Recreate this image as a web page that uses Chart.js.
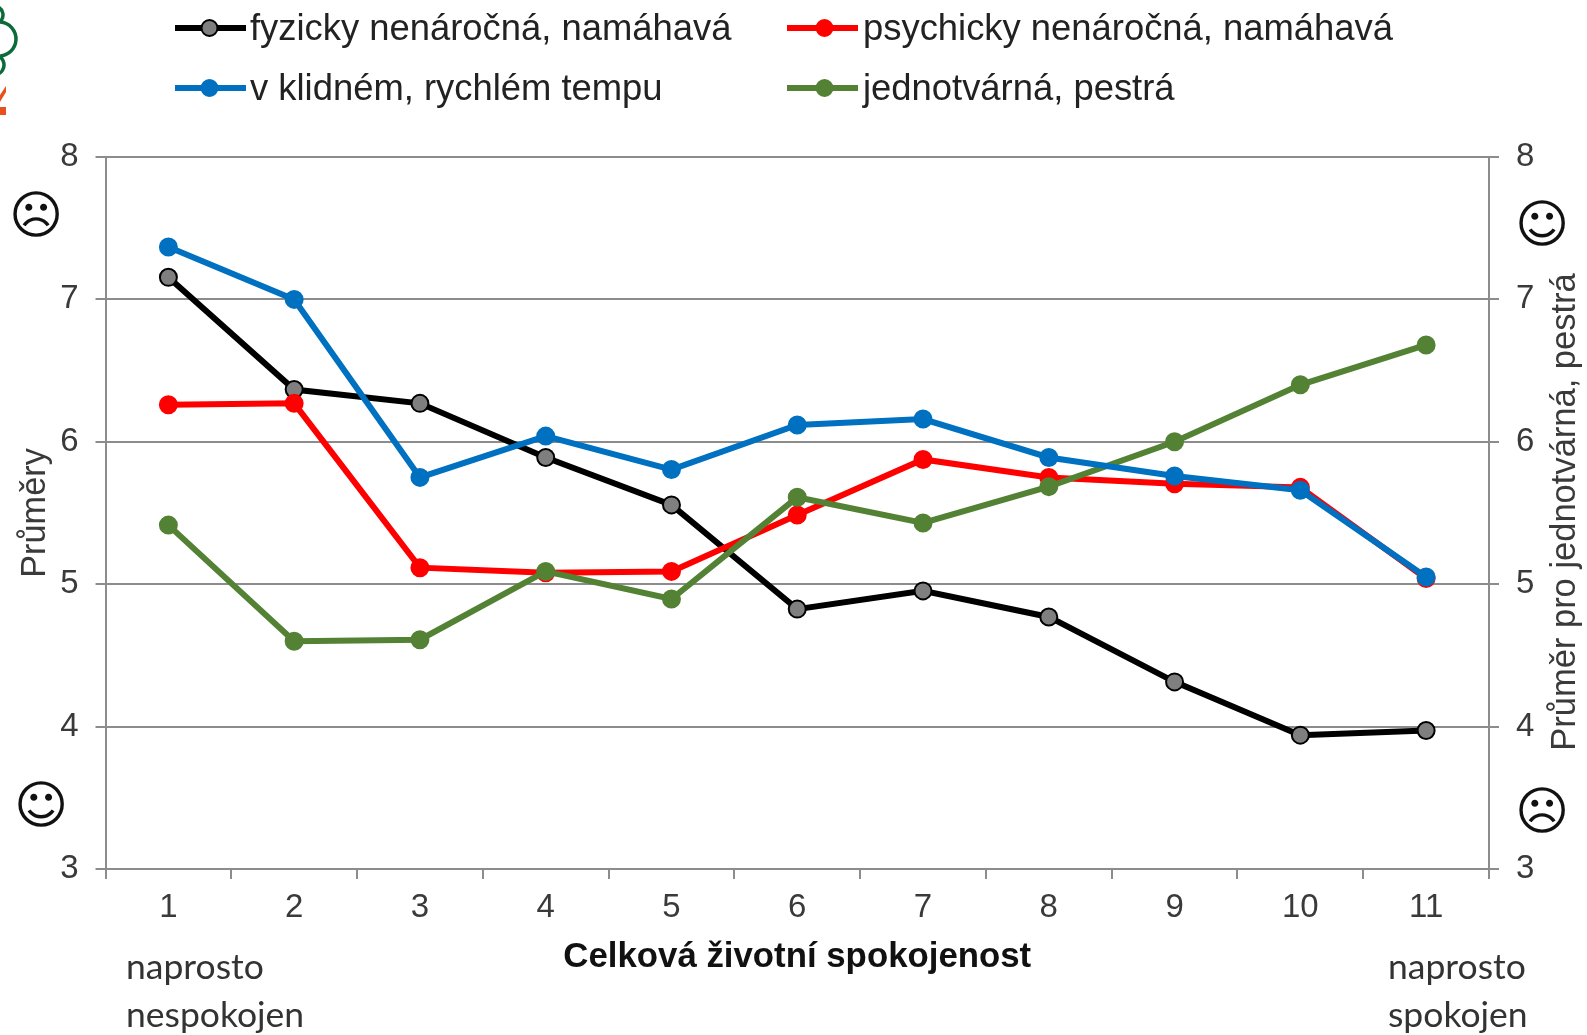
<!DOCTYPE html>
<html><head><meta charset="utf-8">
<style>html,body{margin:0;padding:0;background:#fff;overflow:hidden}#w{position:absolute;left:0;top:0;width:1587px;height:1035px}</style>
<script src="https://cdn.jsdelivr.net/npm/chart.js@4"></script></head>
<body><div id="w"><canvas id="c" width="1587" height="1035"></canvas></div>
<script>
const categories = ['1','2','3','4','5','6','7','8','9','10','11'];
const fyzicky = [7.155,6.367,6.27,5.89,5.557,4.825,4.953,4.77,4.314,3.94,3.973];
const psychicky = [6.26,6.27,5.116,5.08,5.09,5.486,5.876,5.75,5.706,5.68,5.04];
const tempo = [7.368,7.0,5.75,6.04,5.805,6.118,6.16,5.89,5.76,5.66,5.05];
const pestra = [5.415,4.6,4.61,5.09,4.896,5.61,5.43,5.685,6.0,6.40,6.68];
const seriesNames = ['fyzicky nenáročná, namáhavá','psychicky nenáročná, namáhavá','v klidném, rychlém tempu','jednotvárná, pestrá'];
const GRID='#8c8c8c', TXT='#3a3a3a', SANS='"Liberation Sans"';
function ds(label,data,color,fill,order){return {label,data,order,borderColor:color,backgroundColor:fill,pointBackgroundColor:fill,pointBorderColor:color,
  borderWidth:6,pointRadius:8.5,pointBorderWidth:2,tension:0,yAxisID:'y'};}
function yAxis(pos,pad){return {position:pos,min:3,max:8,
  ticks:{stepSize:1,color:TXT,font:{family:SANS,size:33},padding:pad},
  grid:{color:GRID,lineWidth:2,tickLength:10,tickColor:GRID,drawOnChartArea:pos==='left'},
  border:{color:GRID,width:2},
  afterFit(s){s.width=pos==='left'?105.5:98;}};}
const extras={id:'extras',afterDraw(ch){
  const g=ch.ctx;g.save();
  const leg=[[175,28,250,0,34.5],[787,28,863,1,37.5],[175,88,250,2,34.5],[787,88,863,3,37.5]];
  leg.forEach(([x,y,tx,i,mx])=>{const d=ch.data.datasets[i];
    g.strokeStyle=d.borderColor;g.lineWidth=6;g.beginPath();g.moveTo(x,y);g.lineTo(x+71,y);g.stroke();
    g.fillStyle=d.backgroundColor;g.lineWidth=2;g.beginPath();g.arc(x+mx,y,8,0,7);g.fill();g.stroke();
    g.fillStyle='#222';g.font='36.4px '+SANS;g.textAlign='left';g.textBaseline='middle';g.fillText(seriesNames[i],tx,y+2);});
  g.fillStyle=TXT;g.font='34.5px '+SANS;g.textAlign='center';g.textBaseline='middle';
  g.save();g.translate(1565,512);g.rotate(-Math.PI/2);g.fillText('Průměr pro jednotvárná, pestrá',0,0);g.restore();
  g.fillStyle='#333';g.font='35.5px Lato';g.textAlign='left';g.textBaseline='middle';
  g.fillText('naprosto',126,968);g.fillText('nespokojen',126,1016);
  g.fillText('naprosto',1388,968);g.fillText('spokojen',1388,1016);
  g.fillStyle='#111';g.font='52px "DejaVu Sans"';g.textAlign='center';g.textBaseline='middle';
  g.fillText('☹',36,219);g.fillText('☺',41,809);g.fillText('☺',1542,228);g.fillText('☹',1542,815);
  g.strokeStyle='#0b6b3a';g.lineWidth=3.5;
  g.beginPath();g.arc(-1,39,17,-1.5,1.5);g.stroke();
  g.beginPath();g.arc(-6,65,10,-1,1.2);g.stroke();
  g.beginPath();g.arc(-6,15,9,-1,0.9);g.stroke();
  g.fillStyle='#e8501e';g.fillRect(0,107,6,8);
  g.beginPath();g.moveTo(0,95);g.lineTo(6,86);g.lineTo(6,92);g.lineTo(0,102);g.fill();
  g.restore();
}};
new Chart(document.getElementById('c'),{type:'line',
 data:{labels:categories,datasets:[
  ds(seriesNames[0],fyzicky,'#000000','#7f7f7f',4),
  ds(seriesNames[1],psychicky,'#ff0000','#ff0000',3),
  ds(seriesNames[2],tempo,'#0070c0','#0070c0',1),
  ds(seriesNames[3],pestra,'#548235','#548235',2)]},
 options:{responsive:false,animation:false,
  layout:{padding:{top:157,left:0,right:0,bottom:0}},
  plugins:{legend:{display:false},tooltip:{enabled:false}},
  scales:{
   x:{offset:true,ticks:{color:TXT,font:{family:SANS,size:33},padding:9,maxRotation:0,autoSkip:false},
      grid:{offset:true,drawOnChartArea:false,color:GRID,lineWidth:2,tickLength:10,tickColor:GRID},
      border:{color:GRID,width:2},
      title:{display:true,text:'Celková životní spokojenost',color:'#111',font:{family:SANS,size:34.8,weight:'bold'},padding:{top:0,bottom:57}},
      afterFit(s){s.height=166;}},
   y:Object.assign(yAxis('left',17),{title:{display:true,text:'Průměry',color:TXT,font:{family:SANS,size:34.3},padding:{top:15,bottom:0}}}),
   y1:yAxis('right',17)
  }},
 plugins:[extras]});
</script></body></html>
